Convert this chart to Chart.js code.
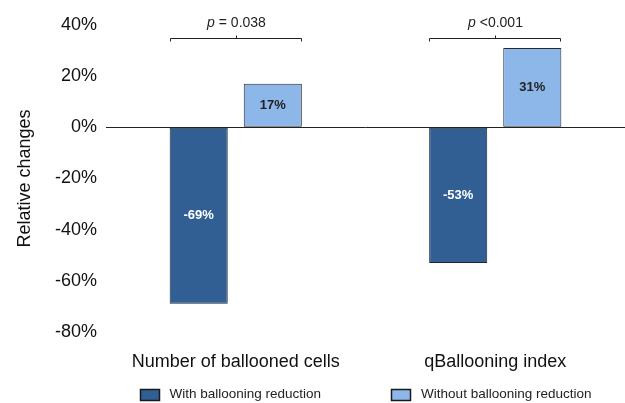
<!DOCTYPE html>
<html>
<head>
<meta charset="utf-8">
<script src="https://cdn.jsdelivr.net/npm/chart.js@4"></script>
<style>
  html, body { margin: 0; padding: 0; background: #fff; }
  #wrap { width: 625px; height: 403px; }
</style>
</head>
<body>
<div id="wrap"><canvas id="myChart"></canvas></div>
<script>
const categories = ['Number of ballooned cells', 'qBallooning index'];
const withReduction = [-69, -53];
const withoutReduction = [17, 31];
const pValues = ['= 0.038', '<0.001'];
const yTicks = [40, 20, 0, -20, -40, -60, -80];

const FONT = "'Liberation Sans', Arial, sans-serif";

// bar value labels in the middle of each bar
const barLabels = {
    id: 'barLabels',
    afterDatasetsDraw(chart) {
        const ctx = chart.ctx;
        ctx.save();
        ctx.font = 'bold 13px ' + FONT;
        ctx.textAlign = 'center';
        ctx.textBaseline = 'middle';
        chart.data.datasets.forEach((ds, di) => {
            const meta = chart.getDatasetMeta(di);
            meta.data.forEach((bar, i) => {
                ctx.fillStyle = di === 0 ? '#ffffff' : '#222222';
                ctx.fillText(ds.data[i] + '%', bar.x, (bar.y + bar.base) / 2);
            });
        });
        ctx.restore();
    }
};

// significance brackets above each pair
const brackets = {
    id: 'brackets',
    afterDatasetsDraw(chart) {
        const ctx = chart.ctx;
        const y = chart.scales.y.getPixelForValue(35);
        const m0 = chart.getDatasetMeta(0), m1 = chart.getDatasetMeta(1);
        ctx.save();
        ctx.strokeStyle = '#222';
        ctx.lineWidth = 1;
        categories.forEach((c, i) => {
            const a = m0.data[i], b = m1.data[i];
            const x1 = Math.round(a.x - a.width / 2) + 0.5;
            const x2 = Math.round(b.x + b.width / 2) - 0.5;
            const yy = Math.round(y) + 0.5;
            const xc = Math.round((x1 + x2) / 2) + 0.5;
            ctx.beginPath();
            ctx.moveTo(x1, yy + 3);
            ctx.lineTo(x1, yy);
            ctx.lineTo(x2, yy);
            ctx.lineTo(x2, yy + 3);
            ctx.moveTo(xc, yy);
            ctx.lineTo(xc, yy - 3);
            ctx.stroke();

            ctx.fillStyle = '#222';
            ctx.textBaseline = 'middle';
            ctx.textAlign = 'left';
            ctx.font = 'italic 14px ' + FONT;
            const wp = ctx.measureText('p ').width;
            ctx.font = '14px ' + FONT;
            const wr = ctx.measureText(pValues[i]).width;
            const start = xc - (wp + wr) / 2;
            ctx.font = 'italic 14px ' + FONT;
            ctx.fillText('p ', start, yy - 15);
            ctx.font = '14px ' + FONT;
            ctx.fillText(pValues[i], start + wp, yy - 15);
        });
        ctx.restore();
    }
};

// legend below the axis labels, items spaced wide apart
const wideLegend = {
    id: 'wideLegend',
    afterDraw(chart) {
        const ctx = chart.ctx;
        const area = chart.chartArea;
        const boxW = 19, boxH = 11, gapText = 11, gapItems = 70;
        const y = chart.height - 9;
        ctx.save();
        ctx.font = '13.5px ' + FONT;
        const ds = chart.data.datasets;
        const widths = ds.map(d => boxW + gapText + ctx.measureText(d.label).width);
        const total = widths.reduce((s, w) => s + w, 0) + gapItems * (ds.length - 1);
        let x = (area.left + area.right) / 2 - total / 2;
        ds.forEach((d, i) => {
            const bx = Math.round(x) + 0.5, by = Math.round(y - boxH / 2) + 0.5;
            ctx.fillStyle = d.backgroundColor;
            ctx.fillRect(bx, by, boxW, boxH);
            ctx.strokeStyle = '#1a1a1a';
            ctx.lineWidth = 1.5;
            ctx.strokeRect(bx, by, boxW, boxH);
            ctx.fillStyle = '#222';
            ctx.textAlign = 'left';
            ctx.textBaseline = 'middle';
            ctx.fillText(d.label, x + boxW + gapText, y);
            x += widths[i] + gapItems;
        });
        ctx.restore();
    }
};

const ctx = document.getElementById('myChart');
const myChart = new Chart(ctx, {
    type: 'bar',
    data: {
        labels: categories,
        datasets: [{
            label: 'With ballooning reduction',
            data: withReduction,
            backgroundColor: '#315f94',
            borderColor: '#1b2633',
            borderWidth: 1,
            borderSkipped: false,
            categoryPercentage: 0.571,
            barPercentage: 0.784
        }, {
            label: 'Without ballooning reduction',
            data: withoutReduction,
            backgroundColor: '#8cb7e8',
            borderColor: '#262b31',
            borderWidth: 1,
            borderSkipped: false,
            categoryPercentage: 0.571,
            barPercentage: 0.784
        }]
    },
    options: {
        responsive: true,
        maintainAspectRatio: false,
        animation: false,
        layout: { padding: { top: 25, left: 0, right: 0, bottom: 31 } },
        plugins: {
            tooltip: { enabled: false },
            legend: { display: false }
        },
        scales: {
            x: {
                grid: { display: false },
                border: { display: false },
                ticks: {
                    font: { family: FONT, size: 18 },
                    color: '#111',
                    padding: 11
                },
                afterFit(s) { s.height = 40; }
            },
            y: {
                min: -80,
                max: 40,
                afterBuildTicks(s) { s.ticks = yTicks.map(v => ({ value: v })); },
                afterFit(s) { s.width = 106; },
                border: { display: false },
                grid: {
                    drawTicks: false,
                    color: c => (c.tick && c.tick.value === 0) ? '#222' : 'transparent'
                },
                ticks: {
                    font: { family: FONT, size: 18 },
                    color: '#111',
                    padding: 9,
                    callback: v => v + '%'
                },
                title: {
                    display: true,
                    text: 'Relative changes',
                    font: { family: FONT, size: 18 },
                    color: '#111',
                    padding: { top: 14, bottom: 0 }
                }
            }
        }
    },
    plugins: [barLabels, brackets, wideLegend]
});
</script>
</body>
</html>
